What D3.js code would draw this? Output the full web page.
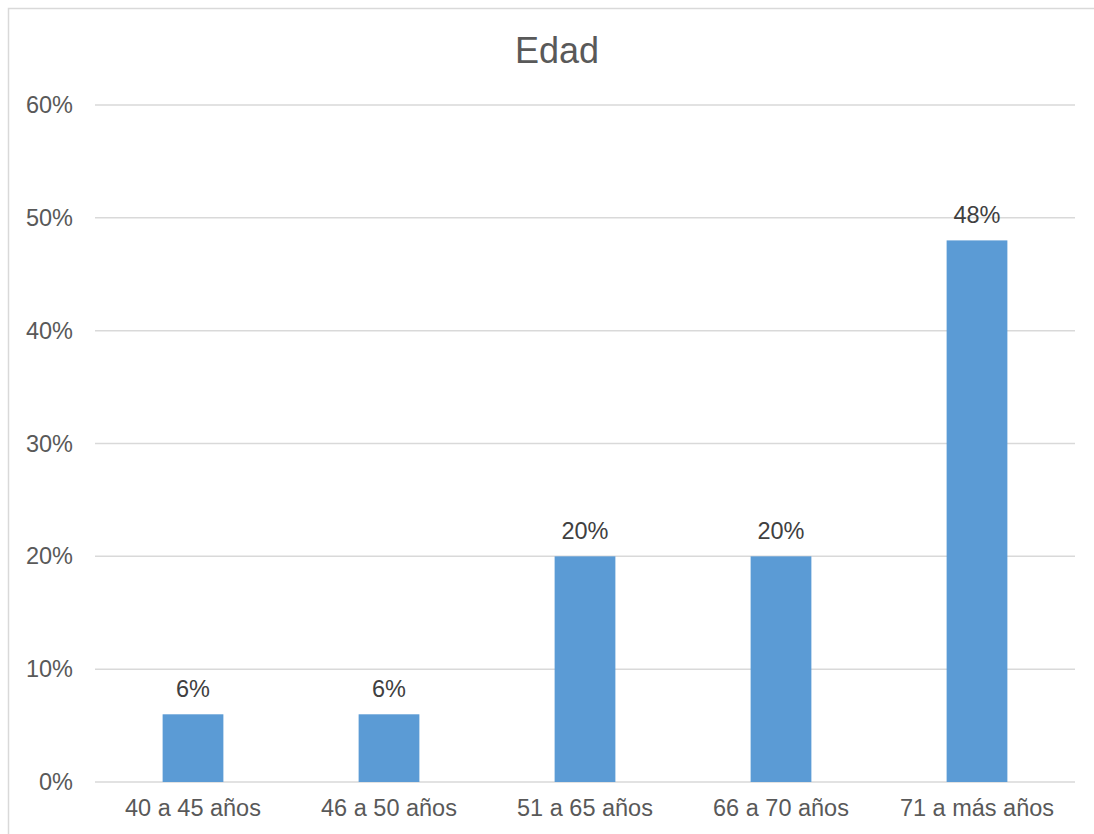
<!DOCTYPE html>
<html>
<head>
<meta charset="utf-8">
<script src="https://cdn.jsdelivr.net/npm/d3@7"></script>
<style>
  body { margin: 0; background: #fff; overflow: hidden; }
  svg { display: block; font-family: "Liberation Sans", Arial, sans-serif; }
</style>
</head>
<body>
<svg id="chart"></svg>
<script>
const categories = ["40 a 45 años", "46 a 50 años", "51 a 65 años", "66 a 70 años", "71 a más años"];
const values = [0.06, 0.06, 0.20, 0.20, 0.48];
const yTicks = [0, 0.1, 0.2, 0.3, 0.4, 0.5, 0.6];
const title = "Edad";

const WIDTH = 1094;
const HEIGHT = 834;
const MARGINS = { left: 95, right: 19, top: 105, bottom: 52 };
const FONT = 23.5;

const svg = d3.select("#chart").attr("width", WIDTH).attr("height", HEIGHT);

// chart area border (runs off the right / bottom edge like the original)
svg.append("rect")
  .attr("x", 8.5)
  .attr("y", 8.5)
  .attr("width", WIDTH + 20)
  .attr("height", HEIGHT + 20)
  .attr("fill", "#fff")
  .attr("stroke", "#d9d9d9")
  .attr("stroke-width", 1.5);

const xScale = d3.scaleBand()
  .domain(categories)
  .range([MARGINS.left, WIDTH - MARGINS.right])
  .paddingInner(0.69)
  .paddingOuter(0.345);

const yScale = d3.scaleLinear()
  .domain([0, 0.6])
  .range([HEIGHT - MARGINS.bottom, MARGINS.top]);

// gridlines
svg.append("g")
  .selectAll("line")
  .data(yTicks)
  .join("line")
  .attr("x1", MARGINS.left)
  .attr("x2", WIDTH - MARGINS.right)
  .attr("y1", (d) => yScale(d))
  .attr("y2", (d) => yScale(d))
  .attr("stroke", "#d9d9d9")
  .attr("stroke-width", 1.5);

// y axis labels
const yAxis = d3.axisLeft(yScale)
  .tickValues(yTicks)
  .tickFormat(d3.format(".0%"))
  .tickSize(0)
  .tickPadding(22);

svg.append("g")
  .attr("transform", `translate(${MARGINS.left}, 0)`)
  .call(yAxis)
  .call((g) => g.select(".domain").remove())
  .call((g) => g.selectAll("text")
    .attr("fill", "#595959")
    .attr("font-size", FONT)
    .attr("font-family", "Liberation Sans, Arial, sans-serif"));

// x axis labels
const xAxis = d3.axisBottom(xScale).tickSize(0).tickPadding(17);

svg.append("g")
  .attr("transform", `translate(0, ${yScale(0)})`)
  .call(xAxis)
  .call((g) => g.select(".domain").remove())
  .call((g) => g.selectAll("text")
    .attr("fill", "#595959")
    .attr("font-size", FONT)
    .attr("font-family", "Liberation Sans, Arial, sans-serif"));

// bars
svg.append("g")
  .selectAll("rect")
  .data(values)
  .join("rect")
  .attr("x", (d, i) => xScale(categories[i]))
  .attr("width", xScale.bandwidth())
  .attr("y", (d) => yScale(d))
  .attr("height", (d) => yScale(0) - yScale(d))
  .attr("fill", "#5b9bd5");

// data labels
svg.append("g")
  .selectAll("text")
  .data(values)
  .join("text")
  .attr("x", (d, i) => xScale(categories[i]) + xScale.bandwidth() / 2)
  .attr("y", (d) => yScale(d) - 17)
  .attr("text-anchor", "middle")
  .attr("fill", "#404040")
  .attr("font-size", FONT)
  .text((d) => d3.format(".0%")(d));

// title
svg.append("text")
  .attr("x", 557)
  .attr("y", 63)
  .attr("text-anchor", "middle")
  .attr("fill", "#595959")
  .attr("font-size", 36)
  .text(title);
</script>
</body>
</html>
